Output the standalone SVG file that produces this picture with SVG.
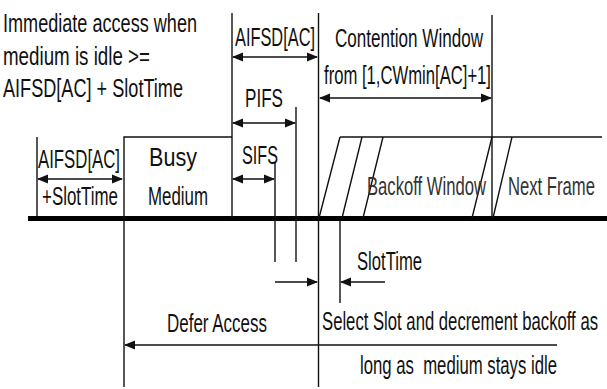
<svg xmlns="http://www.w3.org/2000/svg" width="607" height="389" viewBox="0 0 607 389">
<style>
text{font-family:"Liberation Sans Narrow","Liberation Sans",Arial,sans-serif;font-size:25px;fill:#111;}
.ln{stroke:#111;stroke-width:1.4;fill:none;}
.ar{stroke:#111;stroke-width:1.7;fill:none;}
.thick{stroke:#000;stroke-width:5;}
.g{fill:#333;}
</style>
<defs>
<marker id="ah" markerUnits="userSpaceOnUse" markerWidth="12" markerHeight="10" refX="10" refY="5" orient="auto-start-reverse">
<path d="M0,0.5 L11,5 L0,9.5 Z" fill="#111"/>
</marker>
</defs>
<g id="connectors">
<path class="thick" d="M28 218.5 H607"/>
<path class="ln" d="M37 137 V217"/>
<path class="ln" d="M124 387 V137 H232"/>
<path class="ln" d="M232 13 V218"/>
<path class="ln" d="M318.5 13 V387"/>
<path class="ln" d="M296 107 V262"/>
<path class="ln" d="M275 162 V262"/>
<path class="ln" d="M492 15 V218"/>
<path class="ln" d="M340 218 V303"/>
<path class="ln" d="M340 137 H602"/>
<path class="ln" d="M340 137 L319 218 M362 137 L342 218 M383 137 L363 218 M492 137 L472 218 M512 137 L493 218"/>
<path class="ar" d="M38 179 H122" marker-start="url(#ah)" marker-end="url(#ah)"/>
<path class="ar" d="M233 57 H317" marker-start="url(#ah)" marker-end="url(#ah)"/>
<path class="ar" d="M233 123 H295" marker-start="url(#ah)" marker-end="url(#ah)"/>
<path class="ar" d="M233 179 H274" marker-start="url(#ah)" marker-end="url(#ah)"/>
<path class="ar" d="M320 98 H491" marker-start="url(#ah)" marker-end="url(#ah)"/>
<path class="ar" d="M275 282 H317" marker-end="url(#ah)"/>
<path class="ar" d="M385 282 H341" marker-end="url(#ah)"/>
<path class="ar" d="M557 345 H125" marker-end="url(#ah)"/>
</g>
<g id="immediate-access">
<text x="3" y="32" textLength="194" lengthAdjust="spacingAndGlyphs">Immediate access when</text>
<text x="3" y="65" textLength="147" lengthAdjust="spacingAndGlyphs">medium is idle &gt;=</text>
<text x="3" y="97" textLength="180" lengthAdjust="spacingAndGlyphs">AIFSD[AC] + SlotTime</text>
</g>
<g id="aifsd-top"><text x="235" y="46" textLength="80" lengthAdjust="spacingAndGlyphs">AIFSD[AC]</text></g>
<g id="pifs"><text x="245" y="107" textLength="38" lengthAdjust="spacingAndGlyphs">PIFS</text></g>
<g id="sifs"><text x="242" y="164" textLength="36" lengthAdjust="spacingAndGlyphs">SIFS</text></g>
<g id="aifsd-left">
<text x="38" y="168" textLength="82" lengthAdjust="spacingAndGlyphs">AIFSD[AC]</text>
<text x="42" y="205" textLength="76" lengthAdjust="spacingAndGlyphs">+SlotTime</text>
</g>
<g id="busy-medium">
<text x="149" y="166" textLength="48" lengthAdjust="spacingAndGlyphs">Busy</text>
<text x="148" y="205" textLength="60" lengthAdjust="spacingAndGlyphs">Medium</text>
</g>
<g id="contention-window">
<text x="335" y="47" textLength="148" lengthAdjust="spacingAndGlyphs">Contention Window</text>
<text x="324" y="84" textLength="167" lengthAdjust="spacingAndGlyphs">from [1,CWmin[AC]+1]</text>
</g>
<g id="backoff-window"><text class="g" x="367" y="195" textLength="119" lengthAdjust="spacingAndGlyphs">Backoff Window</text></g>
<g id="next-frame"><text class="g" x="508" y="195" textLength="87" lengthAdjust="spacingAndGlyphs">Next Frame</text></g>
<g id="slottime"><text x="357" y="270" textLength="65" lengthAdjust="spacingAndGlyphs">SlotTime</text></g>
<g id="defer-access"><text x="167" y="332" textLength="100" lengthAdjust="spacingAndGlyphs">Defer Access</text></g>
<g id="select-slot">
<text x="322" y="330" textLength="276" lengthAdjust="spacingAndGlyphs">Select Slot and decrement backoff as</text>
<text x="360" y="374" textLength="197" lengthAdjust="spacingAndGlyphs" xml:space="preserve">long as  medium stays idle</text>
</g>
</svg>
